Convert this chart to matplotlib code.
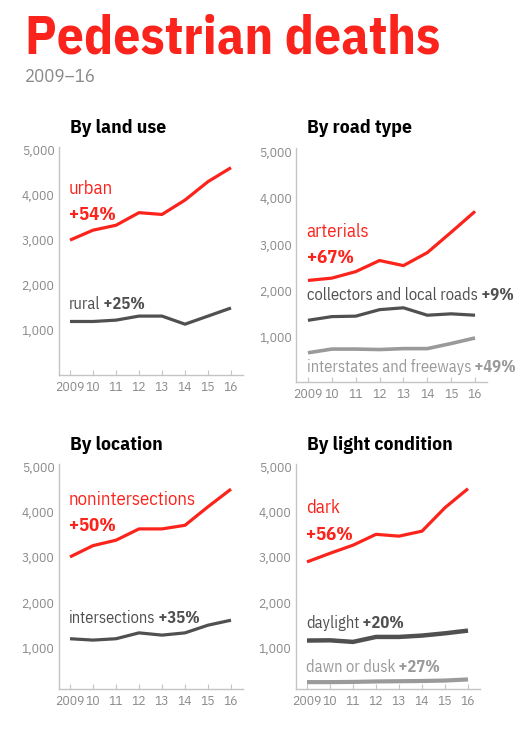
import matplotlib.pyplot as plt

# ---------------------------------------------------------------
# data
# ---------------------------------------------------------------
years = [2009, 2010, 2011, 2012, 2013, 2014, 2015, 2016]
year_labels = ["2009", "10", "11", "12", "13", "14", "15", "16"]
y_ticks = [1000, 2000, 3000, 4000, 5000]
y_tick_labels = ["1,000", "2,000", "3,000", "4,000", "5,000"]

urban = [3000, 3220, 3330, 3610, 3570, 3890, 4300, 4610]
rural = [1190, 1190, 1220, 1310, 1310, 1130, 1310, 1490]

arterials = [2230, 2280, 2420, 2660, 2550, 2830, 3270, 3720]
collectors = [1370, 1450, 1460, 1600, 1640, 1480, 1510, 1480]
interstates = [670, 750, 750, 740, 760, 760, 870, 990]

nonintersections = [3010, 3260, 3380, 3630, 3630, 3710, 4120, 4510]
intersections = [1200, 1170, 1200, 1330, 1280, 1330, 1500, 1610]

dark = [2900, 3090, 3270, 3510, 3470, 3580, 4100, 4520]
daylight = [1160, 1165, 1130, 1240, 1240, 1270, 1320, 1380]
dawn_dusk = [240, 240, 245, 255, 260, 265, 275, 300]

RED = "#fb241c"
DGRAY = "#505050"
LGRAY = "#9a9a9a"
TICK = "#8a8a8a"
SPINE = "#c4c4c4"

plt.rcParams['font.family'] = ['IBM Plex Sans Condensed', 'DejaVu Sans']

fig = plt.figure(figsize=(5.28, 7.37), dpi=100)
W, H = 528.0, 737.0


def px_axes(left, top, right, bottom):
    return fig.add_axes([left / W, 1 - bottom / H, (right - left) / W, (bottom - top) / H])


def style(ax, ylim):
    ax.set_xlim(2008.5, 2016.5)
    ax.set_ylim(*ylim)
    for s in ["top", "right"]:
        ax.spines[s].set_visible(False)
    for s in ["left", "bottom"]:
        ax.spines[s].set_color(SPINE)
        ax.spines[s].set_linewidth(1.0)
    ax.set_xticks(years)
    ax.set_xticklabels(year_labels)
    ax.set_yticks(y_ticks)
    ax.set_yticklabels(y_tick_labels)
    ax.tick_params(axis="x", direction="in", length=3.5, width=0.8, color=SPINE,
                   labelsize=9.7, labelcolor=TICK, pad=4)
    ax.tick_params(axis="y", length=0, labelsize=9.7, labelcolor=TICK, pad=3)


def label(ax, x, y, txt, pct, color, size=11.9):
    t = ax.text(x, y, txt, color=color, fontsize=size, ha="left", va="center")
    ax.annotate(" " + pct, xy=(1, 0), xycoords=t, color=color, fontsize=size,
                fontweight="bold", ha="left", va="bottom", annotation_clip=False)


def title(ax, txt):
    ax.text(0.06, 1.045, txt, transform=ax.transAxes, fontsize=14, fontweight="bold",
            color="black", ha="left", va="bottom")


fig.text(25 / W, 1 - 54 / H, "Pedestrian deaths", color=RED, fontsize=38.5,
         fontweight="bold", ha="left", va="baseline")
fig.text(25 / W, 1 - 82 / H, "2009\u201316", color=TICK, fontsize=13.5,
         ha="left", va="baseline")

# FIGURE 1 - land use
ax1 = px_axes(58.5, 147, 242.5, 375)
style(ax1, (0, 5070))
ax1.plot(years, urban, color=RED, lw=2.3, solid_capstyle="butt")
ax1.plot(years, rural, color=DGRAY, lw=2.3, solid_capstyle="butt")
ax1.text(2008.95, 4130, "urban", color=RED, fontsize=13.5, va="center")
ax1.text(2008.95, 3560, "+54%", color=RED, fontsize=13.5, fontweight="bold", va="center")
label(ax1, 2008.95, 1580, "rural", "+25%", DGRAY)
title(ax1, "By land use")

# FIGURE 2 - road type
ax2 = px_axes(296, 148, 487, 382)
style(ax2, (40, 5086))
ax2.plot(years, arterials, color=RED, lw=2.3, solid_capstyle="butt")
ax2.plot(years, collectors, color=DGRAY, lw=2.3, solid_capstyle="butt")
ax2.plot(years, interstates, color=LGRAY, lw=2.6, solid_capstyle="butt")
ax2.text(2008.95, 3270, "arterials", color=RED, fontsize=13.5, va="center")
ax2.text(2008.95, 2710, "+67%", color=RED, fontsize=13.5, fontweight="bold", va="center")
label(ax2, 2008.95, 1910, "collectors and local roads", "+9%", DGRAY)
label(ax2, 2008.95, 370, "interstates and freeways", "+49%", LGRAY)
title(ax2, "By road type")

# FIGURE 3 - location
ax3 = px_axes(58.5, 464, 242.5, 689)
style(ax3, (88, 5066))
ax3.plot(years, nonintersections, color=RED, lw=2.3, solid_capstyle="butt")
ax3.plot(years, intersections, color=DGRAY, lw=2.3, solid_capstyle="butt")
ax3.text(2008.95, 4270, "nonintersections", color=RED, fontsize=13.5, va="center")
ax3.text(2008.95, 3700, "+50%", color=RED, fontsize=13.5, fontweight="bold", va="center")
label(ax3, 2008.95, 1660, "intersections", "+35%", DGRAY)
title(ax3, "By location")

# FIGURE 4 - light condition
ax4 = px_axes(295.5, 464, 479.5, 689)
style(ax4, (88, 5066))
ax4.plot(years, dark, color=RED, lw=2.3, solid_capstyle="butt")
ax4.plot(years, daylight, color=DGRAY, lw=3.2, solid_capstyle="butt")
ax4.plot(years, dawn_dusk, color=LGRAY, lw=3.0, solid_capstyle="butt")
ax4.text(2008.95, 4090, "dark", color=RED, fontsize=13.5, va="center")
ax4.text(2008.95, 3500, "+56%", color=RED, fontsize=13.5, fontweight="bold", va="center")
label(ax4, 2008.95, 1550, "daylight", "+20%", DGRAY)
label(ax4, 2008.95, 575, "dawn or dusk", "+27%", LGRAY)
title(ax4, "By light condition")

fig.savefig("out.png", dpi=100)
